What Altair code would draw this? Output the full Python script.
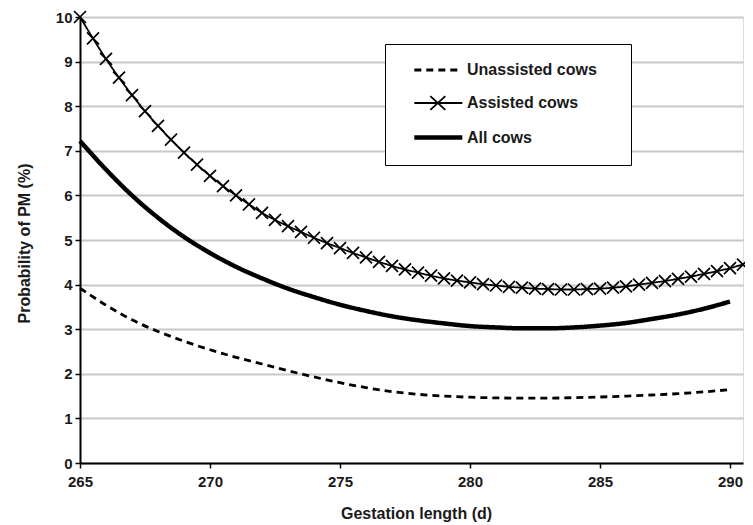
import altair as alt
import pandas as pd

# ---- data ----
series_names = ["Unassisted cows", "Assisted cows", "All cows"]

days = [265, 266, 267, 268, 269, 270, 271, 272, 273, 274, 275, 276, 277,
        278, 279, 280, 281, 282, 283, 284, 285, 286, 287, 288, 289, 290]

unassisted = [3.92, 3.54, 3.21, 2.95, 2.73, 2.54, 2.37, 2.22, 2.07, 1.93, 1.80,
              1.69, 1.60, 1.54, 1.50, 1.475, 1.46, 1.455, 1.455, 1.465, 1.48,
              1.50, 1.525, 1.555, 1.595, 1.645]

all_cows = [7.22, 6.58, 6.00, 5.50, 5.07, 4.71, 4.40, 4.14, 3.91, 3.72, 3.55,
            3.41, 3.29, 3.20, 3.13, 3.07, 3.04, 3.02, 3.02, 3.04, 3.08, 3.14,
            3.23, 3.33, 3.46, 3.62]

days_half = [265, 265.5, 266, 266.5, 267, 267.5, 268, 268.5, 269, 269.5,
             270, 270.5, 271, 271.5, 272, 272.5, 273, 273.5, 274, 274.5,
             275, 275.5, 276, 276.5, 277, 277.5, 278, 278.5, 279, 279.5,
             280, 280.5, 281, 281.5, 282, 282.5, 283, 283.5, 284, 284.5,
             285, 285.5, 286, 286.5, 287, 287.5, 288, 288.5, 289, 289.5,
             290, 290.5]

assisted = [10.0, 9.52, 9.06, 8.64, 8.25, 7.89, 7.56, 7.25, 6.96, 6.69,
            6.44, 6.21, 6.00, 5.80, 5.61, 5.45, 5.31, 5.18, 5.05, 4.93,
            4.82, 4.71, 4.61, 4.51, 4.42, 4.34, 4.27, 4.20, 4.14, 4.09,
            4.05, 4.01, 3.98, 3.95, 3.93, 3.91, 3.90, 3.89, 3.89, 3.90,
            3.91, 3.93, 3.96, 4.00, 4.04, 4.08, 4.13, 4.18, 4.24, 4.30,
            4.37, 4.45]

x_ticks = [265, 270, 275, 280, 285, 290]
y_ticks = [0, 1, 2, 3, 4, 5, 6, 7, 8, 9, 10]

# ---- tables ----
rows = []
for d, v in zip(days, unassisted):
    rows.append({"day": d, "prob": v, "series": "Unassisted cows"})
for d, v in zip(days_half, assisted):
    rows.append({"day": d, "prob": v, "series": "Assisted cows"})
for d, v in zip(days, all_cows):
    rows.append({"day": d, "prob": v, "series": "All cows"})
lines_df = pd.DataFrame(rows)
pts_df = pd.DataFrame({"day": days_half, "prob": assisted,
                       "series": ["Assisted cows"] * len(days_half)})

FONT = "Liberation Sans"
TXT = "#1a1a1a"

x_enc = alt.X(
    "day:Q",
    scale=alt.Scale(domain=[265, 290.5], nice=False, zero=False),
    axis=alt.Axis(
        values=x_ticks, title="Gestation length (d)", grid=False,
        labelFlush=False, labelOverlap=False, labelFont=FONT, labelFontSize=15,
        labelFontWeight="bold", labelColor=TXT, labelPadding=6,
        tickSize=5, tickWidth=1.5, tickColor="black",
        domainColor="black", domainWidth=2,
        titleFont=FONT, titleFontSize=16, titleFontWeight="bold", titleColor=TXT,
        titleX=336, titleY=55, titleBaseline="alphabetic", titleAnchor="middle",
    ),
)
y_enc = alt.Y(
    "prob:Q",
    scale=alt.Scale(domain=[0, 10], nice=False),
    axis=alt.Axis(
        values=y_ticks, title="Probability of PM (%)", grid=True,
        gridColor="#c8c8c8", gridWidth=2,
        labelFlush=False, labelOverlap=False, labelFont=FONT, labelFontSize=15,
        labelFontWeight="bold", labelColor=TXT, labelPadding=3,
        tickSize=5, tickWidth=1.5, tickColor="black",
        domainColor="black", domainWidth=2,
        titleFont=FONT, titleFontSize=16, titleFontWeight="bold", titleColor=TXT,
        titleX=-51, titleY=226, titleAngle=270, titleBaseline="alphabetic",
        titleAlign="center",
    ),
)

LINE_SYM = "M0.47,0L8.47,0"
X_SYM = "M3.22,-1.15L5.72,1.15M3.22,1.15L5.72,-1.15"

common_legend = dict(
    orient="none", legendX=305, legendY=27, padding=18,
    symbolSize=144, symbolStrokeWidth=1.8,
    labelFont=FONT, labelFontSize=16, labelFontWeight="bold", labelColor=TXT,
    labelLimit=400, title=None, values=series_names,
)

# legend with the three line styles and their labels (drawn on top)
legend_lines = alt.Legend(symbolType=LINE_SYM, labelOffset=47, rowPadding=17,
                          zindex=2, **common_legend)
# legend carrying the X marker of the assisted series and the framed box
legend_pts = alt.Legend(symbolType=X_SYM, labelOpacity=0, labelOffset=194,
                        labelExpr="' '", rowPadding=11, fillColor="white",
                        strokeColor="black", zindex=1, **common_legend)

lines = alt.Chart(lines_df).mark_line(color="black", interpolate="monotone").encode(
    x=x_enc,
    y=y_enc,
    strokeDash=alt.StrokeDash(
        "series:N",
        scale=alt.Scale(domain=series_names, range=[[7, 5], [1, 0], [1, 0]]),
        legend=legend_lines,
    ),
    strokeWidth=alt.StrokeWidth(
        "series:N",
        scale=alt.Scale(type="ordinal", domain=series_names, range=[2.8, 1.8, 4.5]),
        legend=legend_lines,
    ),
)

points = alt.Chart(pts_df).mark_point(
    shape="M-1,-1L1,1M-1,1L1,-1", size=144, filled=False, strokeWidth=1.7, opacity=1
).encode(
    x="day:Q",
    y="prob:Q",
    color=alt.Color(
        "series:N",
        scale=alt.Scale(domain=["Assisted cows", "Unassisted cows", "All cows"],
                        range=["black", "transparent", "transparent"]),
        legend=legend_pts,
    ),
)

chart = alt.layer(lines, points).properties(
    width=663, height=446,
    autosize=alt.AutoSizeParams(type="none"),
    padding={"left": 72, "top": 9, "right": 2, "bottom": 60},
).configure_view(stroke="black", strokeWidth=2).configure_legend(
    strokeWidth=2
).configure(background="white")

chart.save("out.html", embed_options={"renderer": "svg", "actions": False})
